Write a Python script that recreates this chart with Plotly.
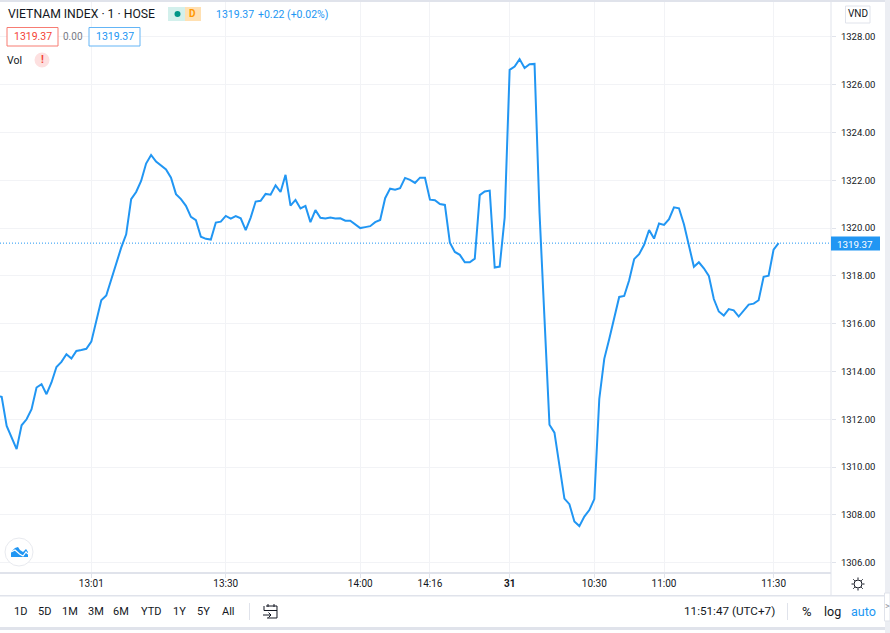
import plotly.graph_objects as go

prices = [1312.98,1312.94,1311.72,1311.21,1310.75,1311.75,1312.00,1312.42,1313.33,1313.47,1313.05,
1313.54,1314.19,1314.40,1314.72,1314.54,1314.86,1314.90,1314.95,1315.25,1316.15,1316.98,1317.18,
1317.87,1318.50,1319.18,1319.74,1321.21,1321.51,1321.97,1322.70,1323.06,1322.78,1322.63,1322.45,
1322.11,1321.42,1321.21,1320.93,1320.47,1320.33,1319.64,1319.55,1319.52,1320.23,1320.27,1320.51,
1320.40,1320.50,1320.41,1319.91,1320.44,1321.11,1321.14,1321.43,1321.40,1321.79,1321.51,1322.23,
1320.94,1321.18,1320.82,1320.93,1320.25,1320.75,1320.43,1320.40,1320.44,1320.40,1320.41,1320.31,
1320.31,1320.16,1320.00,1320.04,1320.08,1320.25,1320.34,1321.25,1321.65,1321.61,1321.67,1322.10,
1322.02,1321.89,1322.11,1322.11,1321.19,1321.17,1321.01,1320.97,1319.39,1319.00,1318.88,1318.57,
1318.57,1318.72,1321.38,1321.53,1321.57,1318.35,1318.39,1320.44,1326.62,1326.76,1327.07,1326.70,
1326.86,1326.87,1320.64,1316.20,1311.77,1311.44,1310.12,1308.68,1308.45,1307.72,1307.53,1307.93,
1308.20,1308.66,1312.85,1314.53,1315.36,1316.24,1317.12,1317.16,1317.82,1318.70,1318.91,1319.30,
1319.92,1319.56,1320.19,1320.13,1320.37,1320.87,1320.83,1320.16,1319.26,1318.38,1318.57,1318.32,
1318.00,1317.03,1316.51,1316.34,1316.61,1316.56,1316.30,1316.56,1316.80,1316.84,1316.98,1317.96,
1318.01,1319.10,1319.37]
tick_index = [19, 46, 73, 87, 103, 120, 134, 156]
tick_labels = ["13:01", "13:30", "14:00", "14:16", "<b>31</b>", "10:30", "11:00", "11:30"]
price_ticks = [1306 + 2 * k for k in range(12)]
range_buttons = ["1D", "5D", "1M", "3M", "6M", "YTD", "1Y", "5Y", "All"]
range_centers = [20, 44, 70, 96, 121, 151, 179, 203, 228]
last_price = "1319.37"

W, H = 890, 633
PL, PR, PT, PB = 0, 831, 2, 572
FONT = "Roboto"
INK = "#131722"
BLUE = "#2196f3"
RED = "#f44336"
GRID = "#f2f3f6"
EDGE = "#e0e3eb"


def X(p):
    return (p - PL) / (PR - PL)


def Y(p):
    return (PB - p) / (PB - PT)


shapes, notes = [], []


def rect(x0, y0, x1, y1, fill=None, line=None, lw=1, layer="above"):
    shapes.append(dict(type="rect", xref="paper", yref="paper", x0=X(x0), x1=X(x1), y0=Y(y0), y1=Y(y1),
                       fillcolor=fill or "rgba(0,0,0,0)", line=dict(color=line or "rgba(0,0,0,0)", width=lw if line else 0), layer=layer))


def seg(x0, y0, x1, y1, color=EDGE, lw=1):
    shapes.append(dict(type="line", xref="paper", yref="paper", x0=X(x0), x1=X(x1), y0=Y(y0), y1=Y(y1),
                       line=dict(color=color, width=lw), layer="above"))


def circle(cx, cy, r, fill=None, line=None, lw=1):
    shapes.append(dict(type="circle", xref="paper", yref="paper", x0=X(cx - r), x1=X(cx + r), y0=Y(cy - r), y1=Y(cy + r),
                       fillcolor=fill or "rgba(0,0,0,0)", line=dict(color=line or "rgba(0,0,0,0)", width=lw if line else 0), layer="above"))


def poly(points, fill=None, line=None, lw=1, close=True):
    d = "M " + " L ".join(f"{X(a):.5f},{Y(b):.5f}" for a, b in points) + (" Z" if close else "")
    shapes.append(dict(type="path", xref="paper", yref="paper", path=d, fillcolor=fill or "rgba(0,0,0,0)",
                       line=dict(color=line or "rgba(0,0,0,0)", width=lw if line else 0), layer="above"))


def label(text, x, y, size=11, color=INK, anchor="center", family=FONT):
    notes.append(dict(text=text, xref="paper", yref="paper", x=X(x), y=Y(y), xanchor=anchor, yanchor="middle",
                      showarrow=False, font=dict(family=family, size=size, color=color), borderpad=0, borderwidth=0))


# chrome
rect(0, 0, 890, 2, fill=EDGE)
rect(885, 0, 890, 633, fill="#eceef3")
rect(0, 595, 885, 596.5, fill=EDGE)
rect(0, 627, 885, 630, fill=EDGE)
seg(831, 0, 831, 595, EDGE, 1)
seg(249.5, 603, 249.5, 620, EDGE, 1)
seg(787.5, 603, 787.5, 620, EDGE, 1)
rect(884.5, 593, 890, 621, fill="white", line=EDGE, lw=1)
label(">", 887.5, 606, 9, "#9598a1")

# header
label("VIETNAM INDEX · 1 · HOSE", 8, 14.5, 12.2, INK, "left")
rect(168, 7, 185, 21, fill="#d3f0ec")
rect(185, 7, 201, 21, fill="#ffe0b2")
circle(177.5, 14, 3, fill="#009688")
label("<b>D</b>", 192.5, 14, 10, "#ff9800")
label("1319.37", 216, 15, 10.5, BLUE, "left")
label("+0.22 (+0.02%)", 258, 15, 10.5, BLUE, "left")
rect(7, 27.5, 58, 46, fill="white", line="#f77c73", lw=1)
label(last_price, 32.5, 37, 10.5, RED)
label("0.00", 73, 37, 10, "#787b86")
rect(89, 27.5, 140, 46, fill="white", line="#64b5f6", lw=1)
label(last_price, 114.5, 37, 10.5, BLUE)
label("Vol", 7, 61, 10.5, INK, "left")
circle(42, 60, 7.5, fill="#fde0e0")
label("<b>!</b>", 42, 60, 10.5, RED)
rect(845.5, 6, 870, 23, fill="white", line=EDGE, lw=1)
label("VND", 858, 14, 10)

# price tag
rect(831, 236.5, 880, 250.5, fill=BLUE)
label(last_price, 855.5, 244, 9.8, "white")

# logo
circle(19, 552, 14, fill="white", line="#e8eaef", lw=1)
poly([(11, 557), (11, 552), (15, 548), (18, 547), (20, 550), (23, 552), (26, 549), (28, 552), (28, 557)], fill=BLUE)
poly([(11, 552), (15, 550), (19.5, 554), (23, 556), (26, 552), (28, 554)], line="white", lw=1.2, close=False)

# gear
circle(858, 584, 4, line=INK, lw=1)
for a, b, c, d in [(858, 577.5, 858, 579.5), (858, 588.5, 858, 590.5), (851.5, 584, 853.5, 584), (862.5, 584, 864.5, 584),
                   (853.3, 579.3, 854.8, 580.8), (861.2, 587.2, 862.7, 588.7), (853.3, 588.7, 854.8, 587.2), (861.2, 580.8, 862.7, 579.3)]:
    seg(a, b, c, d, INK, 1)

# range toolbar
for name, cx in zip(range_buttons, range_centers):
    label(name, cx, 611, 11)
# calendar icon
poly([(266, 606), (277, 606), (277, 618), (267, 618)], line=INK, lw=1, close=False)
poly([(264, 606), (264, 610.5), (277, 610.5)], line=INK, lw=1, close=False)
seg(268, 604, 268, 607, INK)
seg(274, 604, 274, 607, INK)
poly([(263, 615), (271, 615)], line=INK, lw=1, close=False)
poly([(268.5, 612.5), (271, 615), (268.5, 617.5)], line=INK, lw=1, close=False)

label("11:51:47 (UTC+7)", 729, 611, 11.7)
label("%", 807, 611, 13)
label("log", 832, 611, 12.5)
label("auto", 863, 611, 12.5, BLUE)

fig = go.Figure()
xs = list(range(len(prices)))
fig.add_trace(go.Scatter(x=xs, y=prices, mode="lines", line=dict(color=BLUE, width=2), hoverinfo="skip", showlegend=False))
fig.add_hline(y=prices[-1], line=dict(color=BLUE, width=1, dash="1px,2px"))
fig.layout.shapes = list(fig.layout.shapes) + [go.layout.Shape(**s) for s in shapes]

fig.update_layout(
    width=W, height=H, autosize=False,
    margin=dict(l=PL, r=W - PR, t=PT, b=H - PB, pad=0),
    paper_bgcolor="white", plot_bgcolor="white",
    font=dict(family=FONT, size=10, color=INK),
    annotations=notes, showlegend=False,
    xaxis=dict(range=[0.663, 167.53], tickmode="array", tickvals=tick_index, ticktext=tick_labels,
               showgrid=True, gridcolor=GRID, gridwidth=1, zeroline=False, showline=True, linecolor=EDGE, linewidth=1.5,
               ticks="outside", ticklen=4, tickcolor=EDGE, ticklabelstandoff=-3,
               tickfont=dict(family=FONT, size=10, color=INK)),
    yaxis=dict(range=[1305.61, 1329.46], side="right", tickmode="array", tickvals=price_ticks,
               tickformat=".2f", showgrid=True, gridcolor=GRID, gridwidth=1, zeroline=False, showline=False,
               ticks="outside", ticklen=4, tickcolor=EDGE, ticklabelstandoff=3,
               tickfont=dict(family=FONT, size=9.5, color=INK)),
)
fig.write_html("out.html", config={"displayModeBar": False},
               post_script="document.body.style.margin='0';document.documentElement.style.overflow='hidden';")
